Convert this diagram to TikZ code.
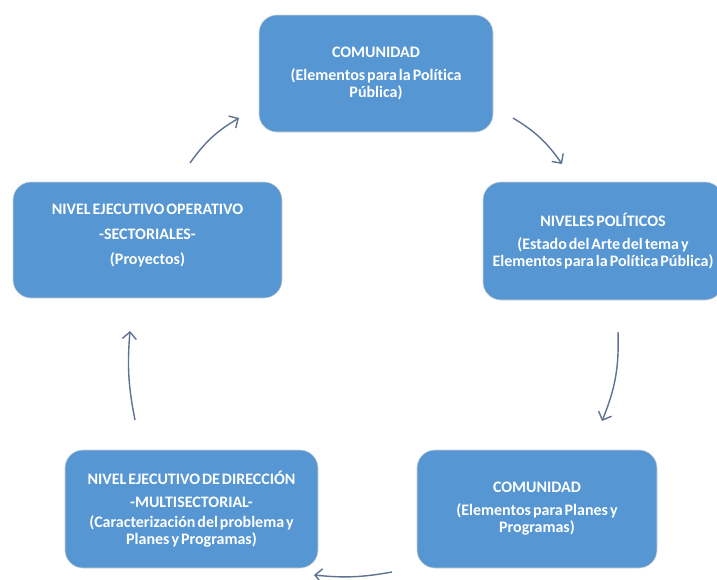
\documentclass[tikz,border=0pt]{standalone}
\usepackage{fontspec}
\setmainfont{Carlito}[WordSpace={0.55},Ligatures=NoCommon]
\usetikzlibrary{arrows.meta}
\definecolor{boxblue}{HTML}{5596D3}
\definecolor{arrowc}{HTML}{5E7291}
\tikzset{
  box/.style={fill=boxblue, draw=gray!35, line width=0.6pt, rounded corners=18pt,
    text=white, font=\bfseries\fontsize{16}{17}\selectfont, align=center, inner sep=0pt},
  flow/.style={draw=arrowc, line width=1.4pt, -{Straight Barb[length=7pt,width=14pt]}}
}
\begin{document}
\begin{tikzpicture}[x=1pt,y=-1pt]
\useasboundingbox (0,0) rectangle (717,579);
\node[box, minimum width=234pt, minimum height=117pt] (top) at (376,73.5)
  {COMUNIDAD\\[6pt](Elementos para la Política\\Pública)};
\node[box, minimum width=240pt, minimum height=118pt] (right) at (603,241)
  {NIVELES POLÍTICOS\\[6pt](Estado del Arte del tema y\\Elementos para la Política Pública)};
\node[box, minimum width=269pt, minimum height=116pt] (left) at (147.5,240)
  {NIVEL EJECUTIVO OPERATIVO\\[8pt]-SECTORIALES-\\[8pt](Proyectos)\\[-6pt]};
\node[box, minimum width=253pt, minimum height=118pt] (bl) at (191.5,509)
  {NIVEL EJECUTIVO DE DIRECCIÓN\\[6pt]-MULTISECTORIAL-\\[3pt](Caracterización del problema y\\Planes y Programas)};
\node[box, minimum width=240pt, minimum height=118pt] (br) at (537,509)
  {COMUNIDAD\\[6pt](Elementos para Planes y\\Programas)};
\coordinate (a1s) at (190,163); \coordinate (a1e) at (239,118);
\coordinate (a2s) at (513,118); \coordinate (a2e) at (562,164);
\coordinate (a3s) at (618,332); \coordinate (a3e) at (602,421);
\coordinate (a4s) at (392,572); \coordinate (a4e) at (314,575);
\coordinate (a5s) at (135,420); \coordinate (a5e) at (130,331);
\draw[flow] (a1s) to[bend left=12] (a1e);
\draw[flow] (a2s) to[bend left=12] (a2e);
\draw[flow] (a3s) to[bend left=12] (a3e);
\draw[flow] (a4s) to[bend left=8] (a4e);
\draw[flow] (a5s) to[bend left=8] (a5e);
\end{tikzpicture}
\end{document}
